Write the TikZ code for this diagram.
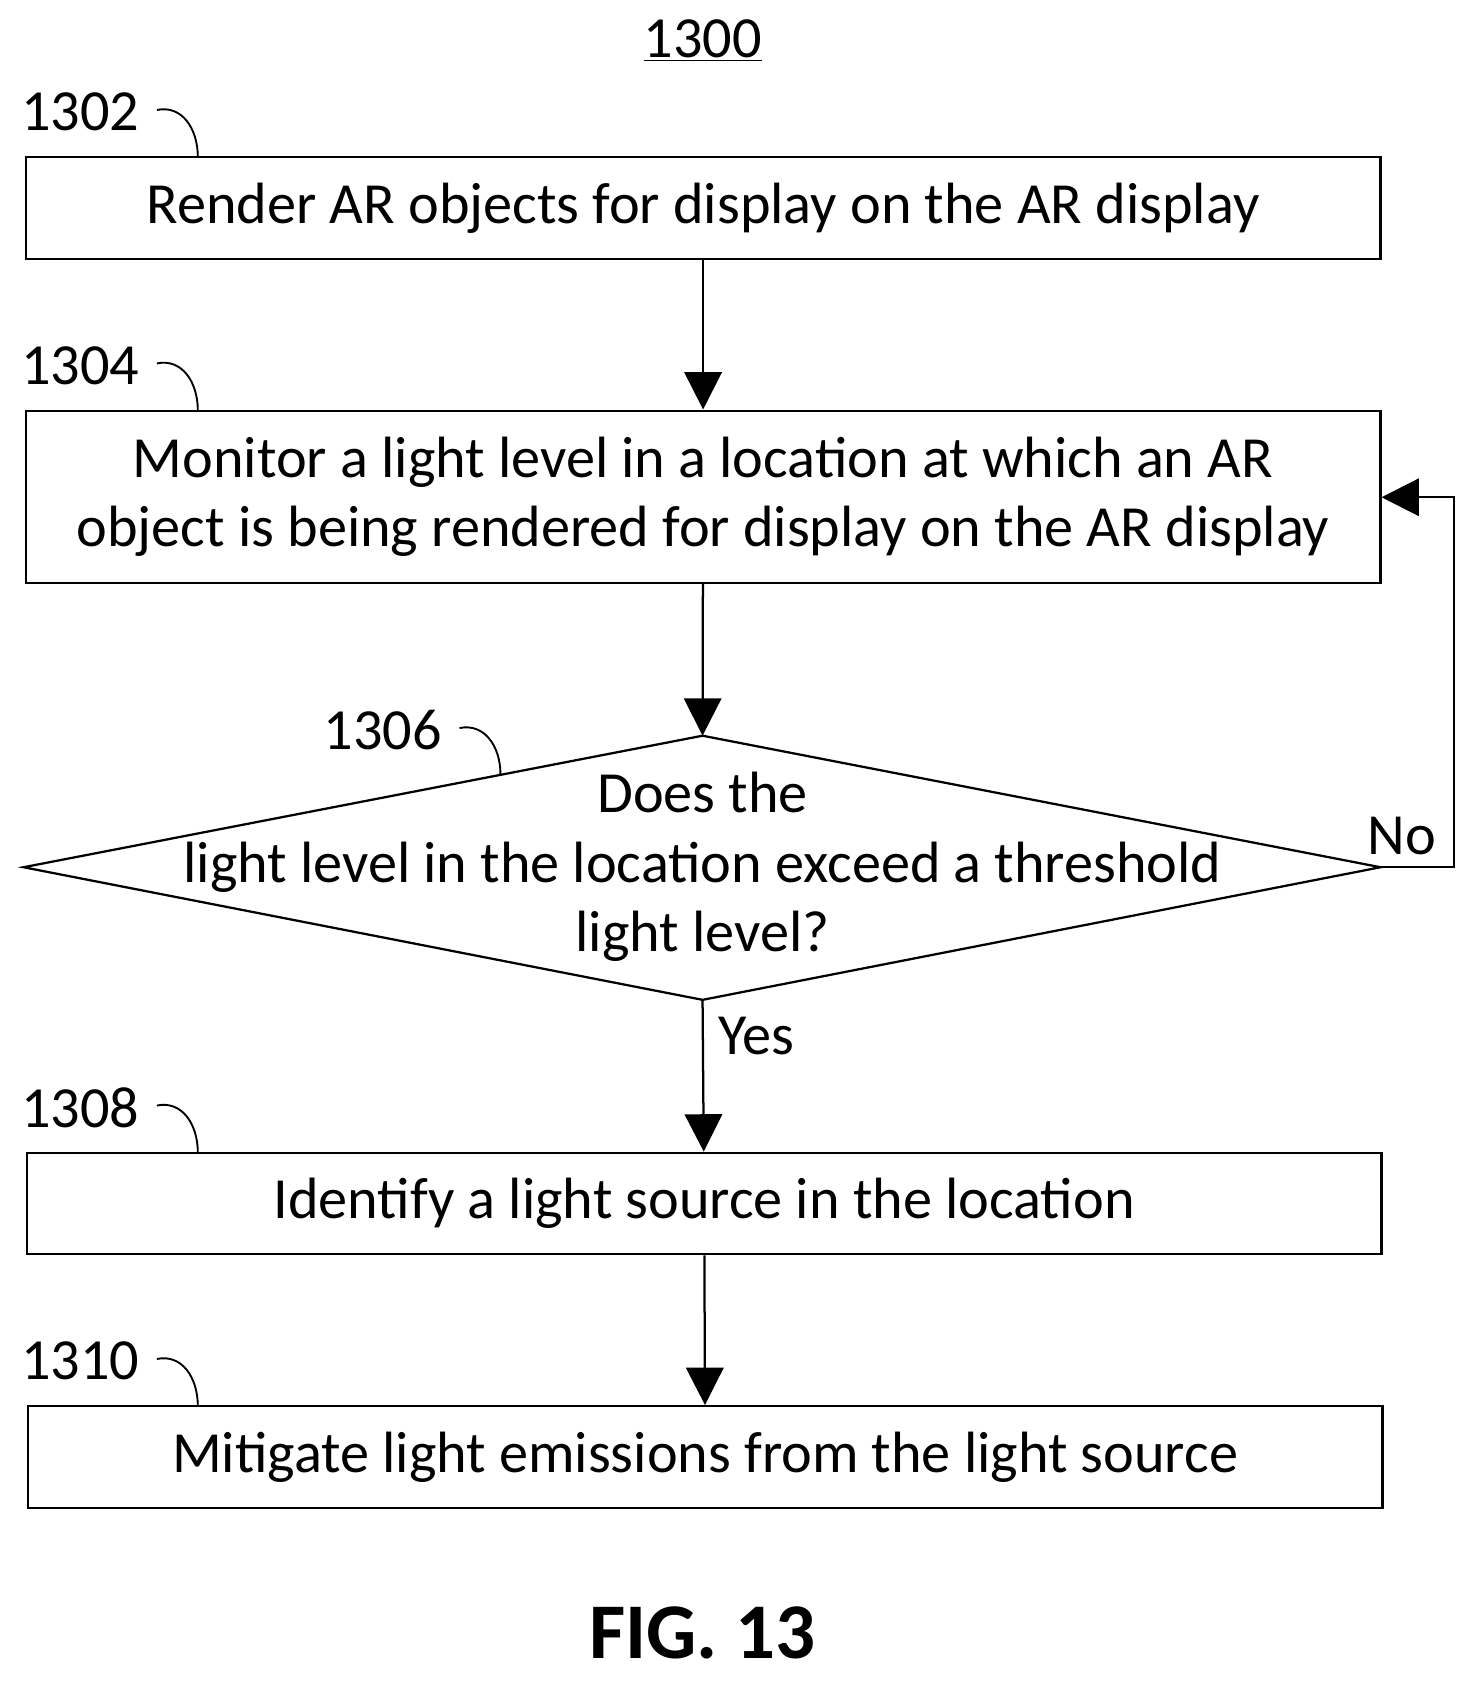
\documentclass[tikz,border=0pt]{standalone}
\usepackage{fontspec}
\setmainfont{Carlito}
\usetikzlibrary{positioning, arrows.meta}

\tikzset{
    stepbox/.style={draw, line width=1.2pt, minimum width=25.34cm, minimum height=1.9cm, align=center, inner sep=0pt},
    flow/.style={line width=1.2pt, -{Triangle[length=0.7cm, width=0.7cm]}},
    leader/.style={line width=1pt, shorten <=6pt},
    refnum/.style={anchor=center}
}

\begin{document}
\begin{tikzpicture}[x=0.02cm, y=-0.02cm, font=\fontsize{31}{37}\selectfont]
\useasboundingbox (0,0) rectangle (1385,1572);

%% title
\node (title) at (657,38) {\underline{1300}};

%% steps
\node[stepbox] (render) at (657.5,194.5) {Render AR objects for display on the AR display};
\node[stepbox, minimum height=3.22cm] (monitor) at (657.5,464.5) {Monitor a light level in a location at which an AR\\object is being rendered for display on the AR display};
\node[stepbox] (identify) at (658.5,1125.5) {Identify a light source in the location};
\node[stepbox] (mitigate) at (659.5,1362.5) {Mitigate light emissions from the light source};

% decision
\coordinate (dtop) at (657,688);
\coordinate (dright) at (1291,811);
\coordinate (dbottom) at (657,935);
\coordinate (dleft) at (22,811);
\draw[line width=1.2pt] (dtop) -- (dright) -- (dbottom) -- (dleft) -- cycle;
\node[align=center] (decide) at (657,811) {Does the\\light level in the location exceed a threshold\\light level?};

%% reference numerals
\node[refnum] (n1302) at (75,105) {1302};
\node[refnum] (n1304) at (75,342) {1304};
\node[refnum] (n1306) at (358,683) {1306};
\node[refnum] (n1308) at (75,1036) {1308};
\node[refnum] (n1310) at (75,1273) {1310};
\draw[leader] (n1302.east) .. controls (170,98) and (185,120) .. (185,147);
\draw[leader] (n1304.east) .. controls (170,335) and (185,357) .. (185,384);
\draw[leader] (n1306.east) .. controls (453,676) and (468,698) .. (468,724);
\draw[leader] (n1308.east) .. controls (170,1029) and (185,1051) .. (185,1078);
\draw[leader] (n1310.east) .. controls (170,1266) and (185,1288) .. (185,1315);

% connectors
\draw[flow] (render) -- (monitor);
\draw[flow] (monitor) -- (dtop);
\draw[flow] (dbottom) -- (identify);
\draw[flow] (identify) -- (mitigate);
\draw[flow] (dright) -- (1360,811) -- (1360,465) -- (monitor.east |- 0,465);
\node (no) at (1311,782) {No};
\node (yes) at (707,969) {Yes};

\node[font=\fontsize{42}{48}\selectfont\bfseries] (fig) at (657,1527) {FIG. 13};
\end{tikzpicture}
\end{document}
